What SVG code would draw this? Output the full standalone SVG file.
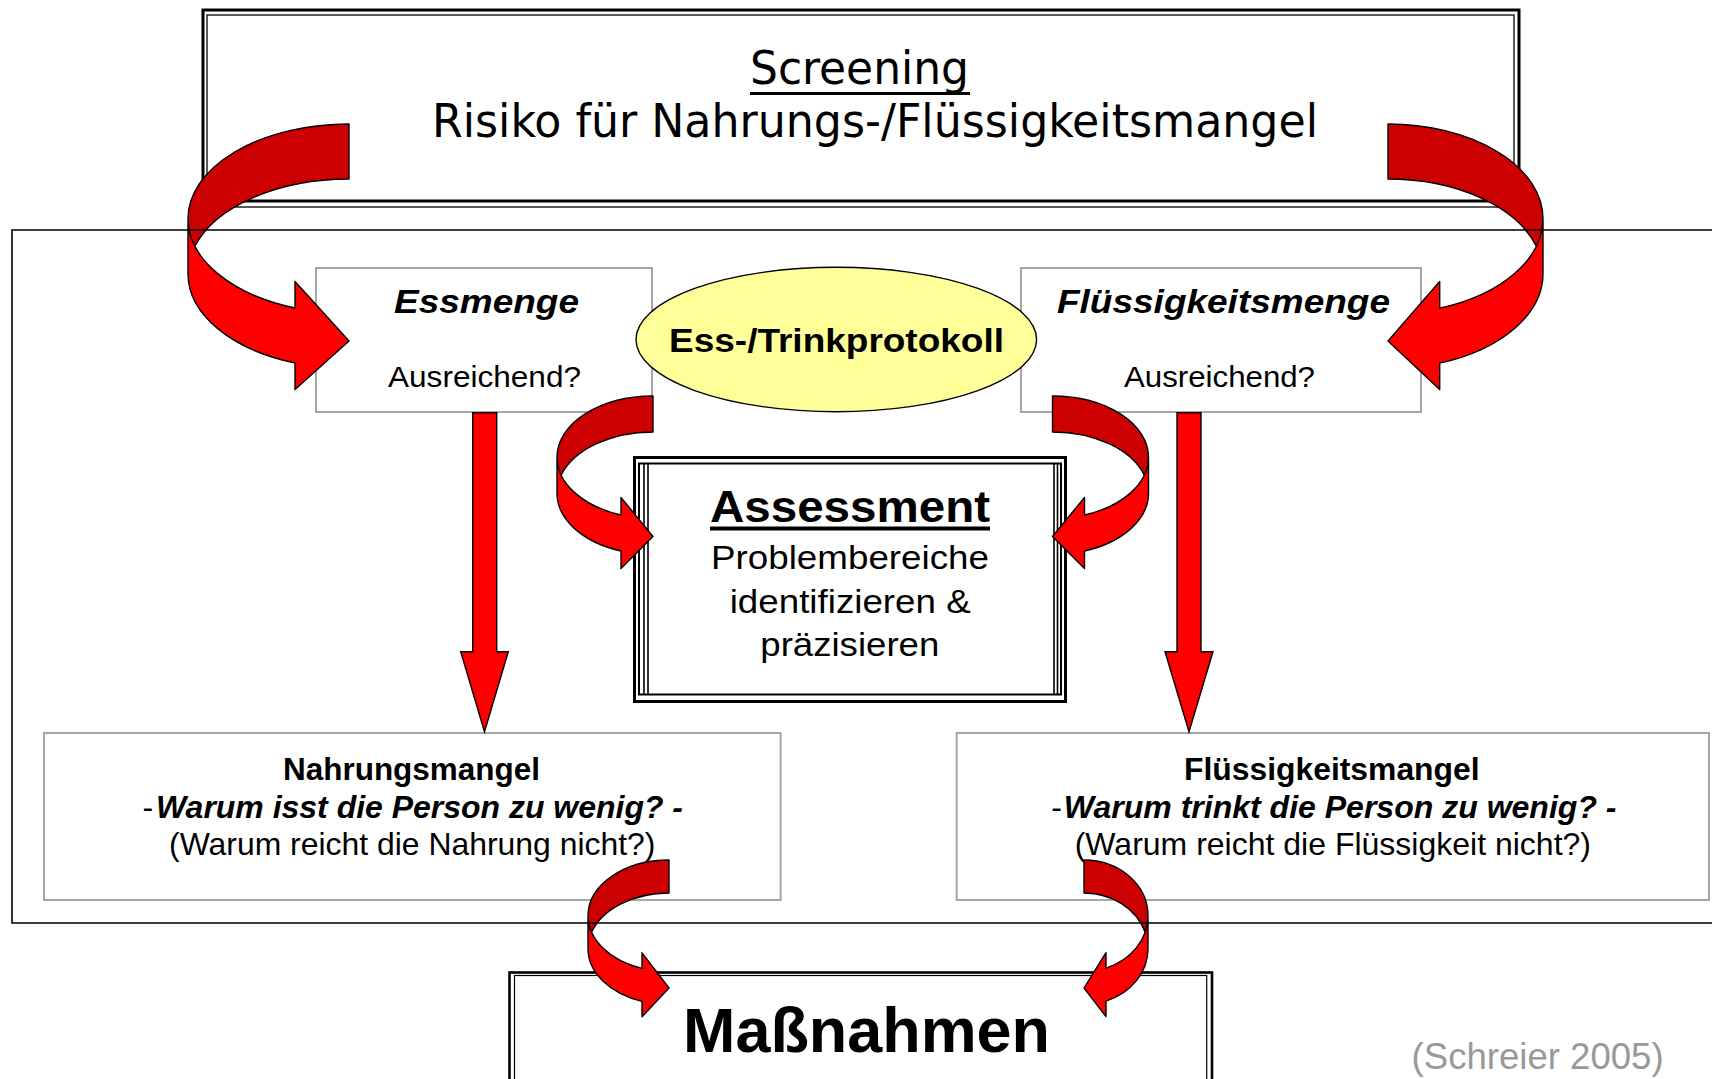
<svg xmlns="http://www.w3.org/2000/svg" width="1712" height="1079" viewBox="0 0 1712 1079">
<style>
.bg{fill:#ffffff}
.gbox{fill:#ffffff;stroke:#a6a6a6;stroke-width:2}
.blk{fill:none;stroke:#000000}
.front{fill:#ff0000;stroke:none}
.back{fill:#cc0000;stroke:none}
.outl{fill:none;stroke:#000000;stroke-width:1.4;stroke-linejoin:round}
.arr{fill:#ff0000;stroke:#000000;stroke-width:1.4;stroke-linejoin:miter}
.scr{font-family:"DejaVu Sans Condensed","DejaVu Sans",sans-serif;font-stretch:condensed;font-size:46px;fill:#000}
.t{font-family:"Liberation Sans",Arial,sans-serif;fill:#000}
.b{font-weight:bold}
.i{font-style:italic}
</style>
<rect class="bg" x="0" y="0" width="1712" height="1079"/>

<g id="screening">
  <rect class="blk" x="203" y="10" width="1316" height="191" stroke-width="3"/>
  <rect class="blk" x="207" y="15" width="1307" height="192" stroke-width="1.3"/>
  <text class="scr" x="750" y="84" textLength="219" lengthAdjust="spacingAndGlyphs">Screening</text>
  <rect x="750" y="92" width="220" height="3" fill="#000"/>
  <text class="scr" x="432" y="137" textLength="886" lengthAdjust="spacingAndGlyphs">Risiko für Nahrungs-/Flüssigkeitsmangel</text>
</g>

<g id="essmenge">
  <rect class="gbox" x="316" y="268" width="336" height="144"/>
  <text class="t b i" x="394" y="313" font-size="33" textLength="185" lengthAdjust="spacingAndGlyphs">Essmenge</text>
  <text class="t" x="388" y="387" font-size="30" textLength="193" lengthAdjust="spacingAndGlyphs">Ausreichend?</text>
</g>

<g id="fluessigkeitsmenge">
  <rect class="gbox" x="1021" y="268" width="400" height="144"/>
  <text class="t b i" x="1057" y="313" font-size="33" textLength="333" lengthAdjust="spacingAndGlyphs">Flüssigkeitsmenge</text>
  <text class="t" x="1124" y="387" font-size="30" textLength="191" lengthAdjust="spacingAndGlyphs">Ausreichend?</text>
</g>

<g id="protokoll">
  <ellipse cx="836.3" cy="339.5" rx="200.3" ry="72.2" fill="#ffff99" stroke="#000" stroke-width="1.4"/>
  <text class="t b" x="669" y="352" font-size="33" textLength="335" lengthAdjust="spacingAndGlyphs">Ess-/Trinkprotokoll</text>
</g>

<g id="assessment">
  <rect x="634.5" y="457.5" width="431" height="244" fill="#fff" stroke="#000" stroke-width="3"/>
  <rect class="blk" x="639" y="463.5" width="422" height="231" stroke-width="2"/>
  <line class="blk" x1="644" y1="463.5" x2="644" y2="694.5" stroke-width="1.6"/>
  <line class="blk" x1="648" y1="463.5" x2="648" y2="694.5" stroke-width="1.6"/>
  <line class="blk" x1="1054" y1="463.5" x2="1054" y2="694.5" stroke-width="1.6"/>
  <line class="blk" x1="1057.5" y1="463.5" x2="1057.5" y2="694.5" stroke-width="1.6"/>
  <text class="t b" x="710" y="521.7" font-size="44" textLength="280" lengthAdjust="spacingAndGlyphs">Assessment</text>
  <rect x="710" y="526.5" width="280" height="4" fill="#000"/>
  <text class="t" x="711" y="568.5" font-size="33" textLength="278" lengthAdjust="spacingAndGlyphs">Problembereiche</text>
  <text class="t" x="729.7" y="613.3" font-size="33" textLength="241" lengthAdjust="spacingAndGlyphs">identifizieren &amp;</text>
  <text class="t" x="760.3" y="656" font-size="33" textLength="179" lengthAdjust="spacingAndGlyphs">präzisieren</text>
</g>

<g id="nahrungsmangel">
  <rect class="gbox" x="44" y="733" width="736.6" height="167"/>
  <text class="t b" x="283" y="780" font-size="31" textLength="257" lengthAdjust="spacingAndGlyphs">Nahrungsmangel</text>
  <text class="t" x="142.6" y="818.3" font-size="32">-</text>
  <text class="t b i" x="156" y="818.3" font-size="32" textLength="527" lengthAdjust="spacingAndGlyphs">Warum isst die Person zu wenig? -</text>
  <text class="t" x="169" y="855" font-size="31.5" textLength="486.5" lengthAdjust="spacingAndGlyphs">(Warum reicht die Nahrung nicht?)</text>
</g>

<g id="fluessigkeitsmangel">
  <rect class="gbox" x="956.7" y="733" width="752.3" height="167"/>
  <text class="t b" x="1184" y="780" font-size="31" textLength="295.6" lengthAdjust="spacingAndGlyphs">Flüssigkeitsmangel</text>
  <text class="t" x="1051.3" y="818.3" font-size="32">-</text>
  <text class="t b i" x="1063.8" y="818.3" font-size="32" textLength="552.7" lengthAdjust="spacingAndGlyphs">Warum trinkt die Person zu wenig? -</text>
  <text class="t" x="1074.7" y="855" font-size="31.5" textLength="516.3" lengthAdjust="spacingAndGlyphs">(Warum reicht die Flüssigkeit nicht?)</text>
</g>

<g id="massnahmen">
  <rect class="blk" x="509.5" y="972.5" width="702.5" height="200" stroke-width="2.6"/>
  <rect class="blk" x="514.5" y="975.5" width="692.2" height="200" stroke-width="1.2"/>
  <text class="t b" x="683" y="1052" font-size="63" textLength="367" lengthAdjust="spacingAndGlyphs">Maßnahmen</text>
</g>

<g id="connectors">
  <g id="arrowA">
    <path class="front" d="M188,218.75 A161,94.75 0 0 0 295,308.01 L295,281.51 L349,341 L295,389.51 L295,363.01 A161,94.75 0 0 1 188,273.75 Z"/>
    <path class="back" d="M349,124 A161,94.75 0 0 0 194.93,246.25 A161,94.75 0 0 1 349,179 Z"/>
    <path class="outl" d="M188,218.75 A161,94.75 0 0 0 295,308.01 L295,281.51 L349,341 L295,389.51 L295,363.01 A161,94.75 0 0 1 188,273.75 L188,218.75 A161,94.75 0 0 1 349,124 L349,179 A161,94.75 0 0 0 194.93,246.25"/>
  </g>
  <g id="arrowB">
    <path class="front" d="M1543,218.75 A155,94.75 0 0 1 1439.7,308.07 L1439.7,281.57 L1388,341 L1439.7,389.57 L1439.7,363.07 A155,94.75 0 0 0 1543,273.75 Z"/>
    <path class="back" d="M1388,124 A155,94.75 0 0 1 1536.33,246.25 A155,94.75 0 0 0 1388,179 Z"/>
    <path class="outl" d="M1543,218.75 A155,94.75 0 0 1 1439.7,308.07 L1439.7,281.57 L1388,341 L1439.7,389.57 L1439.7,363.07 A155,94.75 0 0 0 1543,273.75 L1543,218.75 A155,94.75 0 0 0 1388,124 L1388,179 A155,94.75 0 0 1 1536.33,246.25"/>
  </g>
  <g id="arrowC">
    <path class="front" d="M557,457.25 A96,61.25 0 0 0 621,515 L621,497.5 L653,536.5 L621,568.5 L621,551 A96,61.25 0 0 1 557,493.25 Z"/>
    <path class="back" d="M653,396 A96,61.25 0 0 0 561.24,475.25 A96,61.25 0 0 1 653,432 Z"/>
    <path class="outl" d="M557,457.25 A96,61.25 0 0 0 621,515 L621,497.5 L653,536.5 L621,568.5 L621,551 A96,61.25 0 0 1 557,493.25 L557,457.25 A96,61.25 0 0 1 653,396 L653,432 A96,61.25 0 0 0 561.24,475.25"/>
  </g>
  <g id="arrowD">
    <path class="front" d="M1148.5,457.25 A96,61.25 0 0 1 1084.5,515 L1084.5,497.5 L1052.5,536.5 L1084.5,568.5 L1084.5,551 A96,61.25 0 0 0 1148.5,493.25 Z"/>
    <path class="back" d="M1052.5,396 A96,61.25 0 0 1 1144.26,475.25 A96,61.25 0 0 0 1052.5,432 Z"/>
    <path class="outl" d="M1148.5,457.25 A96,61.25 0 0 1 1084.5,515 L1084.5,497.5 L1052.5,536.5 L1084.5,568.5 L1084.5,551 A96,61.25 0 0 0 1148.5,493.25 L1148.5,457.25 A96,61.25 0 0 0 1052.5,396 L1052.5,432 A96,61.25 0 0 1 1144.26,475.25"/>
  </g>
  <g id="arrowE">
    <path class="front" d="M588,915.75 A81,55.75 0 0 0 642,968.31 L642,952.81 L669,988 L642,1016.81 L642,1001.31 A81,55.75 0 0 1 588,948.75 Z"/>
    <path class="back" d="M669,860 A81,55.75 0 0 0 591.63,932.25 A81,55.75 0 0 1 669,893 Z"/>
    <path class="outl" d="M588,915.75 A81,55.75 0 0 0 642,968.31 L642,952.81 L669,988 L642,1016.81 L642,1001.31 A81,55.75 0 0 1 588,948.75 L588,915.75 A81,55.75 0 0 1 669,860 L669,893 A81,55.75 0 0 0 591.63,932.25"/>
  </g>
  <g id="arrowF">
    <path class="front" d="M1148,915.75 A64,55.75 0 0 1 1106,968.1 L1106,952.6 L1084,988 L1106,1016.6 L1106,1001.1 A64,55.75 0 0 0 1148,948.75 Z"/>
    <path class="back" d="M1084,860 A64,55.75 0 0 1 1145.13,932.25 A64,55.75 0 0 0 1084,893 Z"/>
    <path class="outl" d="M1148,915.75 A64,55.75 0 0 1 1106,968.1 L1106,952.6 L1084,988 L1106,1016.6 L1106,1001.1 A64,55.75 0 0 0 1148,948.75 L1148,915.75 A64,55.75 0 0 0 1084,860 L1084,893 A64,55.75 0 0 1 1145.13,932.25"/>
  </g>
  <path id="arrowG" class="arr" d="M472.7,412.7 L496.7,412.7 L496.7,651.7 L508.3,651.7 L484.5,731.7 L460.7,651.7 L472.7,651.7 Z"/>
  <path id="arrowH" class="arr" d="M1177,412.7 L1201,412.7 L1201,651.7 L1213,651.7 L1189,731.7 L1165,651.7 L1177,651.7 Z"/>
</g>

<g id="region">
  <path class="blk" d="M1712,230 L12,230 L12,923 L1712,923" stroke-width="1.6"/>
</g>

<g id="source">
  <text class="t" x="1411.6" y="1069" font-size="36" style="fill:#999999" textLength="252" lengthAdjust="spacingAndGlyphs">(Schreier 2005)</text>
</g>
</svg>
